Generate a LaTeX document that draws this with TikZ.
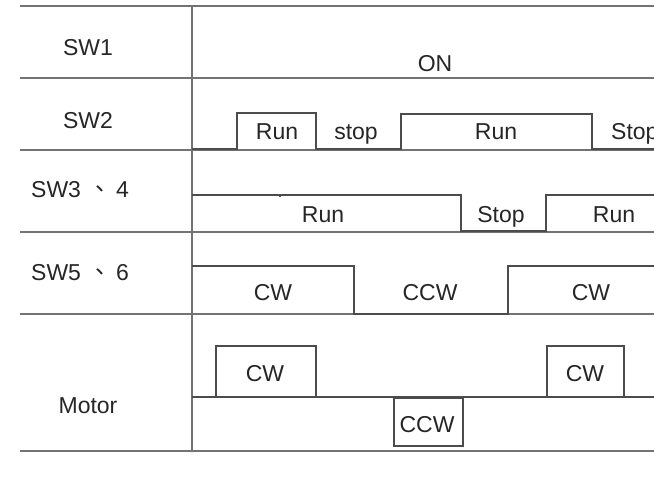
\documentclass[tikz,border=0pt]{standalone}
\usepackage{fontspec}
\setmainfont{Liberation Sans}
\newfontfamily\cjkfont{Noto Sans CJK TC}
\newcommand{\dunhao}{{\cjkfont 、}}
\begin{document}
\begin{tikzpicture}[x=1pt,y=-1pt,
  gridline/.style={draw=black!55,line width=1.1pt},
  wave/.style={draw=black!70,line width=1.1pt},
  txt/.style={font=\fontsize{23}{27}\selectfont,text=black!85,inner sep=0pt,anchor=base}]
\useasboundingbox (0,0) rectangle (654,479);
\clip (0,0) rectangle (654,479);
\fill[white] (0,0) rectangle (654,479);

% table grid
\coordinate (tl) at (20,6);   \coordinate (tr) at (654,6);
\coordinate (r1l) at (20,78); \coordinate (r1r) at (654,78);
\coordinate (r2l) at (20,150);\coordinate (r2r) at (654,150);
\coordinate (r3l) at (20,232);\coordinate (r3r) at (654,232);
\coordinate (r4l) at (20,314);\coordinate (r4r) at (654,314);
\coordinate (bl) at (20,451); \coordinate (br) at (654,451);
\coordinate (vt) at (192,6);  \coordinate (vb) at (192,452);
\draw[gridline] (tl) -- (tr);
\draw[gridline] (r1l) -- (r1r);
\draw[gridline] (r2l) -- (r2r);
\draw[gridline] (r3l) -- (r3r);
\draw[gridline] (r4l) -- (r4r);
\draw[gridline] (bl) -- (br);
\draw[gridline] (vt) -- (vb);

% row labels
\node[txt] (sw1) at (88,56) {SW1};
\node[txt] (sw2) at (88,128) {SW2};
\node[txt] (sw34) at (80,197) {SW3\hspace{7pt}\dunhao\hspace{5pt}4};
\node[txt] (sw56) at (80,280) {SW5\hspace{7pt}\dunhao\hspace{5pt}6};
\node[txt] (motor) at (88,413) {Motor};

% SW1
\node[txt] (on) at (435,71) {ON};

% SW2
\draw[wave] (192,149) -- (237,149) -- (237,113) -- (316,113) -- (316,149)
  -- (401,149) -- (401,114) -- (592,114) -- (592,149) -- (654,149);
\node[txt] (run1) at (277,139) {Run};
\node[txt] (stop1) at (356,139) {stop};
\node[txt] (run2) at (496,139) {Run};
\node[txt,anchor=base west] (stop2) at (611,139) {Stop};

% SW3, SW4
\draw[wave] (192,195) -- (461,195) -- (461,231) -- (546,231) -- (546,195) -- (654,195);
\draw[wave] (280,195) -- (280,196.5);
\node[txt] (run3) at (323,222) {Run};
\node[txt] (stop3) at (501,222) {Stop};
\node[txt] (run4) at (614,222) {Run};

% SW5, SW6
\draw[wave] (192,266) -- (354,266) -- (354,314) -- (508,314) -- (508,266) -- (654,266);
\node[txt] (cw1) at (273,300) {CW};
\node[txt] (ccw1) at (430,300) {CCW};
\node[txt] (cw2) at (591,300) {CW};

% motor
\draw[wave] (192,397) -- (654,397);
\draw[wave] (216,346) rectangle (316,397);
\draw[wave] (547,346) rectangle (624,397);
\draw[wave] (394,398) rectangle (463,446);
\node[txt] (mcw1) at (265,381) {CW};
\node[txt] (mccw) at (427,432) {CCW};
\node[txt] (mcw2) at (585,381) {CW};
\end{tikzpicture}
\end{document}
